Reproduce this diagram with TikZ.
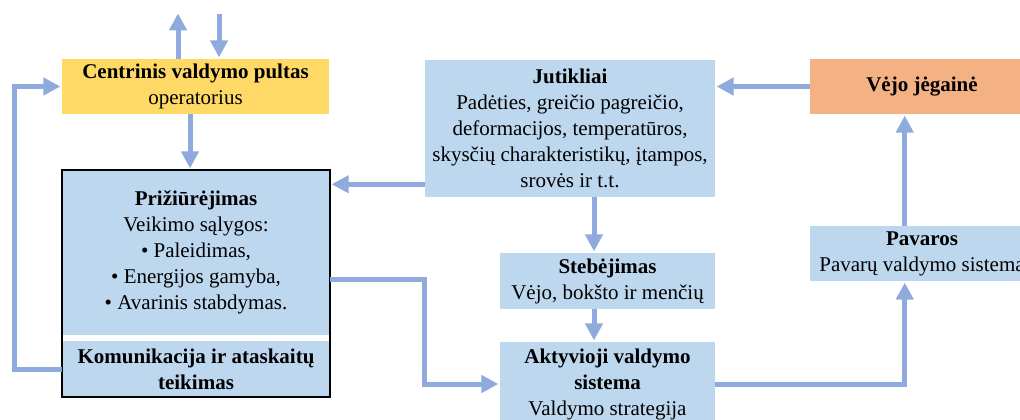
\documentclass[tikz,border=0pt]{standalone}
\usepackage{fontspec}
\setmainfont{Liberation Serif}
\usetikzlibrary{arrows.meta,calc}
\definecolor{boxblue}{HTML}{BDD7EE}
\definecolor{boxyellow}{HTML}{FFD966}
\definecolor{boxsalmon}{HTML}{F4B183}
\definecolor{flowc}{HTML}{8FAADC}
\begin{document}
\begin{tikzpicture}[x=0.75pt,y=-0.75pt,
  box/.style={inner sep=0pt,align=center,font={\fontsize{15.75}{19.5}\selectfont}},
  flow/.style={draw=flowc,line width=3.75pt,shorten >=1pt,
    -{Triangle[width=12.75pt,length=12.75pt]}}]
\useasboundingbox (0,0) rectangle (1020,419);
\clip (0,0) rectangle (1020,419);

% control desk
\node[box,fill=boxyellow,minimum width=200.25pt,minimum height=41.25pt] (cen) at (195.5,86.5)
  {\textbf{Centrinis valdymo pultas}\\operatorius};

% supervision block with its communication part
\node[box,fill=boxblue,minimum width=201pt,minimum height=123.75pt] (prz) at (196,252.5)
  {\textbf{Prižiūrėjimas}\\Veikimo sąlygos:\\• Paleidimas,\\• Energijos gamyba,\\• Avarinis stabdymas.};
\node[box,fill=boxblue,minimum width=201pt,minimum height=42pt] (kom) at (196,369)
  {\textbf{Komunikacija ir ataskaitų}\\\textbf{teikimas}};
\draw[line width=1.5pt] (prz.north west) rectangle (kom.south east);

% sensors, monitoring, active control
\node[box,fill=boxblue,minimum width=217.5pt,minimum height=102.75pt] (jut) at (570,128.5)
  {\textbf{Jutikliai}\\Padėties, greičio pagreičio,\\deformacijos, temperatūros,\\skysčių charakteristikų, įtampos,\\srovės ir t.t.};
\node[box,fill=boxblue,minimum width=161.25pt,minimum height=42pt] (ste) at (607.5,281)
  {\textbf{Stebėjimas}\\Vėjo, bokšto ir menčių};
\node[box,fill=boxblue,minimum width=161.25pt,minimum height=63pt] (akt) at (607.5,384)
  {\textbf{Aktyvioji valdymo}\\\textbf{sistema}\\Valdymo strategija};

% drives and turbine
\node[box,fill=boxblue,minimum width=168pt,minimum height=41.25pt] (pav) at (922,253.5)
  {\textbf{Pavaros}\\Pavarų valdymo sistema};
\node[box,fill=boxsalmon,minimum width=168pt,minimum height=41.25pt] (vej) at (922,86.5)
  {\textbf{Vėjo jėgainė}};

% external links of the control desk
\coordinate (out) at (178,12);
\coordinate (in) at (219,14);
\draw[flow] (cen.north -| out) -- (out);
\draw[flow] (in) -- (in |- cen.north);

% connectors
\coordinate (c1) at ($(cen.south)+(-5.5,0)$);
\draw[flow] (c1) -- (c1 |- prz.north);
\draw[flow] (kom.west) -- ++(-47,0) |- (cen.west);
\coordinate (j1) at ($(jut.south west)+(0,-13)$);
\draw[flow] (j1) -- (prz.east |- j1);
\coordinate (s1) at ($(ste.north)+(-13.5,0)$);
\draw[flow] (s1 |- jut.south) -- (s1);
\coordinate (s2) at ($(ste.south)+(-13.5,0)$);
\draw[flow] (s2) -- (s2 |- akt.north);
\coordinate (p1) at ($(prz.east)+(0,26.5)$);
\draw[flow] (p1) -- (p1 -| jut.west) |- (akt.west);
\coordinate (d1) at ($(pav.south west)+(95,0)$);
\draw[flow] (akt.east) -| (d1);
\coordinate (d2) at ($(pav.north west)+(95,0)$);
\draw[flow] (d2) -- (d2 |- vej.south);
\draw[flow] (vej.west) -- (jut.east |- vej.west);
\end{tikzpicture}
\end{document}
